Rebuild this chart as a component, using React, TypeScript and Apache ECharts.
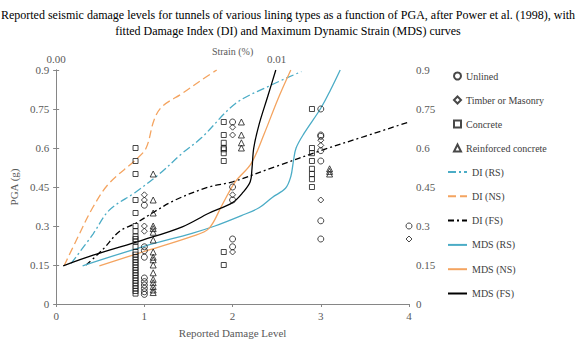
import React, { useEffect, useRef } from "react";
import * as echarts from "echarts";

const titleText =
  "Reported seismic damage levels for tunnels of various lining types as a function of PGA, after Power et al. (1998), with\nfitted Damage Index (DI) and Maximum Dynamic Strain (MDS) curves";

const yTicks = [0, 0.15, 0.3, 0.45, 0.6, 0.75, 0.9];
const xTicks = [0, 1, 2, 3, 4];
const strainTicks = [0, 0.01];

// Scatter observations [damage level (jittered), PGA]
const unlined = [
  [1, 0.38], [1, 0.22], [1, 0.205], [1, 0.18], [1, 0.1], [1, 0.086], [1, 0.073], [1, 0.06], [1, 0.047], [1, 0.037],
  [2, 0.7], [2, 0.45], [2, 0.4], [2, 0.25], [2, 0.22],
  [3, 0.75], [3, 0.65], [3, 0.645], [3, 0.59], [3, 0.55], [3, 0.32], [3, 0.25],
  [4, 0.3],
];
const timber = [
  [1, 0.42], [1, 0.4], [1, 0.3], [1, 0.28],
  [2, 0.68], [2, 0.65], [2, 0.42], [2, 0.2],
  [3, 0.63], [3, 0.61], [3, 0.4],
  [4, 0.25],
];
const concrete = [
  [0.9, 0.6], [0.9, 0.55], [0.9, 0.5], [0.9, 0.4], [0.9, 0.35], [0.9, 0.3], [0.9, 0.28], [0.9, 0.26], [0.9, 0.25],
  [0.9, 0.24], [0.9, 0.22], [0.9, 0.2], [0.9, 0.19], [0.9, 0.18], [0.9, 0.17], [0.9, 0.16], [0.9, 0.15], [0.9, 0.14],
  [0.9, 0.13], [0.9, 0.12], [0.9, 0.11], [0.9, 0.1], [0.9, 0.09], [0.9, 0.08], [0.9, 0.07], [0.9, 0.06], [0.9, 0.05], [0.9, 0.04],
  [1.9, 0.7], [1.9, 0.65], [1.9, 0.62], [1.9, 0.6], [1.9, 0.595], [1.9, 0.58], [1.9, 0.55], [1.9, 0.2], [1.9, 0.15],
  [2.9, 0.75], [2.9, 0.6], [2.9, 0.58], [2.9, 0.55], [2.9, 0.52], [2.9, 0.5], [2.9, 0.48], [2.9, 0.45],
];
const reinforced = [
  [1.1, 0.5], [1.1, 0.4], [1.1, 0.35], [1.1, 0.3], [1.1, 0.29], [1.1, 0.276], [1.1, 0.246], [1.1, 0.2], [1.1, 0.18],
  [1.1, 0.17], [1.1, 0.15], [1.1, 0.12], [1.1, 0.095], [1.1, 0.082], [1.1, 0.067], [1.1, 0.054], [1.1, 0.044],
  [2.1, 0.7], [2.1, 0.65], [2.1, 0.62], [2.1, 0.6],
  [3.1, 0.52], [3.1, 0.51], [3.1, 0.5],
];

// Fitted curves [damage level, PGA]
const diRS = [
  [0.17, 0.156], [0.42, 0.27], [0.6, 0.36], [0.9, 0.43], [1.17, 0.5], [1.43, 0.58], [1.65, 0.64],
  [2.03, 0.77], [2.4, 0.836], [2.78, 0.894],
];
const diNS = [
  [0.09, 0.147], [0.23, 0.246], [0.42, 0.374], [0.6, 0.464], [0.9, 0.554], [1.02, 0.6], [1.11, 0.708],
  [1.2, 0.759], [1.43, 0.81], [1.65, 0.862], [1.82, 0.9],
];
const diFS = [
  [0.34, 0.15], [0.53, 0.21], [0.72, 0.28], [0.9, 0.31], [1.09, 0.35], [1.35, 0.4], [1.73, 0.45],
  [2.0, 0.47], [2.5, 0.53], [3.0, 0.59], [3.5, 0.645], [4.0, 0.7],
];
const mdsRS = [
  [0.3, 0.147], [0.98, 0.22], [1.54, 0.272], [1.8, 0.3], [2.1, 0.34], [2.3, 0.37], [2.45, 0.41],
  [2.6, 0.445], [2.66, 0.49], [2.69, 0.55], [2.72, 0.6], [2.81, 0.656], [3.0, 0.753], [3.11, 0.823], [3.22, 0.9],
];
const mdsNS = [
  [0.49, 0.147], [0.98, 0.2], [1.54, 0.26], [1.73, 0.29], [1.88, 0.38], [2.03, 0.47], [2.21, 0.54],
  [2.36, 0.656], [2.51, 0.785], [2.66, 0.9],
];
const mdsFS = [
  [0.08, 0.147], [0.42, 0.188], [0.98, 0.246], [1.43, 0.297], [1.73, 0.349], [2.0, 0.39], [2.12, 0.43],
  [2.2, 0.47], [2.22, 0.52], [2.24, 0.6], [2.3, 0.69], [2.4, 0.8], [2.49, 0.9],
];

const scatterNames = ["Unlined", "Timber or Masonry", "Concrete", "Reinforced concrete"];
const lineNames = ["DI (RS)", "DI (NS)", "DI (FS)", "MDS (RS)", "MDS (NS)", "MDS (FS)"];

const FONT = "Liberation Serif";
const TEAL = "#4BACC6";
const ORANGE = "#F4A460";
const AXIS = "#868686";
const LABEL = "#595959";

const txt = (size: number, color: string) => ({
  fontFamily: FONT,
  fontSize: size,
  fontWeight: "normal" as const,
  fontStyle: "normal" as const,
  color,
});

export default function App() {
  const ref = useRef<HTMLDivElement>(null);
  useEffect(() => {
    if (!ref.current) return;
    const chart = echarts.init(ref.current, null, { renderer: "svg" });
    const scatter = (name: string, symbol: string, size: number, data: number[][]) => ({
      name,
      type: "scatter",
      symbol,
      symbolSize: size,
      data,
      itemStyle: { color: "rgba(0,0,0,0)", borderColor: "#1a1a1a", borderWidth: 1 },
      z: 3,
    });
    const line = (name: string, color: string, type: any, data: number[][], z = 2) => ({
      name,
      type: "line",
      data,
      smooth: 0.35,
      symbol: "none",
      lineStyle: { color, width: 1.3, type },
      itemStyle: { color },
      z,
    });
    const legendText = { ...txt(10, "#404040"), lineHeight: 12 };
    chart.setOption({
      animation: false,
      textStyle: txt(11, LABEL),
      title: {
        text: titleText,
        left: "center",
        top: 2,
        textStyle: { ...txt(12, "#000"), lineHeight: 16 },
      },
      grid: { left: 53, right: 167, top: 70, bottom: 41 },
      legend: [
        {
          orient: "vertical",
          left: 453,
          top: 70,
          padding: 0,
          itemWidth: 7,
          itemHeight: 7,
          itemGap: 12,
          textStyle: legendText,
          data: scatterNames,
        },
        {
          orient: "vertical",
          left: 447,
          top: 166,
          padding: 0,
          itemWidth: 19,
          itemHeight: 8,
          itemGap: 12.3,
          textStyle: legendText,
          data: lineNames.map((n) => ({ name: n, itemStyle: { opacity: 0 } })),
        },
      ],
      xAxis: [
        {
          type: "value",
          position: "bottom",
          min: 0,
          max: 4,
          interval: 1,
          name: "Reported Damage Level",
          nameLocation: "middle",
          nameGap: 23,
          nameTextStyle: txt(11, LABEL),
          axisLine: { show: true, lineStyle: { color: AXIS } },
          axisTick: { show: true, length: 3, lineStyle: { color: AXIS } },
          axisLabel: { ...txt(11, LABEL), margin: 6, customValues: xTicks },
          splitLine: { show: false },
        },
        {
          type: "value",
          position: "top",
          min: 0,
          max: 0.016,
          interval: 0.01,
          name: "Strain (%)",
          nameLocation: "middle",
          nameGap: 14,
          nameMoveOverlap: false,
          nameTextStyle: txt(10, LABEL),
          axisLine: { show: true, lineStyle: { color: AXIS } },
          axisTick: { show: false },
          axisLabel: {
            ...txt(11, LABEL),
            margin: 6,
            customValues: strainTicks,
            formatter: (v: number) => v.toFixed(2),
          },
          splitLine: { show: false },
        },
      ],
      yAxis: [
        {
          type: "value",
          position: "left",
          min: 0,
          max: 0.9,
          interval: 0.15,
          name: "PGA (g)",
          nameLocation: "middle",
          nameGap: 32,
          nameTextStyle: txt(11, LABEL),
          axisLine: { show: true, lineStyle: { color: AXIS } },
          axisTick: { show: true, length: 3, lineStyle: { color: AXIS } },
          axisLabel: { ...txt(11, LABEL), margin: 7, customValues: yTicks },
          splitLine: { show: false },
        },
        {
          type: "value",
          position: "right",
          min: 0,
          max: 0.9,
          interval: 0.15,
          axisLine: { show: true, lineStyle: { color: AXIS } },
          axisTick: { show: true, length: 3, lineStyle: { color: AXIS } },
          axisLabel: { ...txt(11, LABEL), margin: 7, customValues: yTicks },
          splitLine: { show: false },
        },
      ],
      series: [
        scatter("Unlined", "circle", 6, unlined),
        scatter("Timber or Masonry", "diamond", 6, timber),
        scatter("Concrete", "rect", 5, concrete),
        scatter("Reinforced concrete", "triangle", 6, reinforced),
        line("DI (RS)", TEAL, [8, 3, 2, 3], diRS),
        line("DI (NS)", ORANGE, [8, 4], diNS),
        line("DI (FS)", "#000", [6, 3, 2, 3], diFS),
        line("MDS (RS)", TEAL, "solid", mdsRS),
        line("MDS (NS)", ORANGE, "solid", mdsNS),
        line("MDS (FS)", "#000", "solid", mdsFS),
      ],
    });
    return () => chart.dispose();
  }, []);
  return <div ref={ref} style={{ width: 576, height: 345, position: "absolute", left: 0, top: 0 }} />;
}
